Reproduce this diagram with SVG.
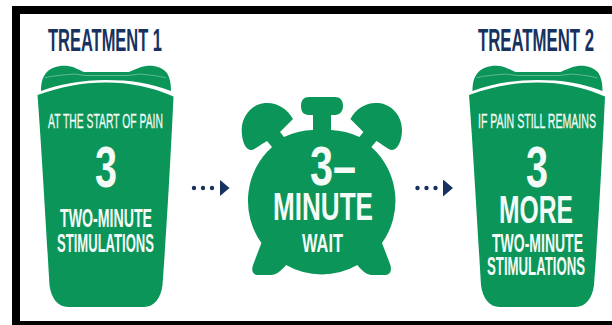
<svg xmlns="http://www.w3.org/2000/svg" xmlns:xlink="http://www.w3.org/1999/xlink" width="612" height="325" viewBox="0 0 612 325">
  <style>
    text { font-family: "Liberation Sans", Arial, sans-serif; }
    .g { fill: #0b9559; }
    .w { fill: #f4fbf7; }
    .h { fill: #17325f; font-size: 32px; font-weight: bold; }
    .s { font-size: 20px; stroke: #f4fbf7; stroke-width: .3; }
    .m { font-size: 25.5px; font-weight: bold; }
    .b { font-weight: bold; }
    .dots { fill: none; stroke: #17325f; stroke-width: 4.4; stroke-linecap: round; stroke-dasharray: 0 9; marker-end: url(#tri); }
  </style>
  <defs>
    <marker id="tri" markerUnits="userSpaceOnUse" markerWidth="11" markerHeight="18" refX="0" refY="8.5" orient="auto">
      <path d="M0 0L10 8.500L0 17Z" fill="#17325f"/>
    </marker>
    <g id="cup">
      <path class="g" d="M41 91C41 84 42 78 46 73C51 67 60 65 68 66C75 67 79 70 84 72L129 72C134 70 139 67 146 66C154 65 162 67 167 73C170 78 171 84 171 91C150 83 130 80 106 80C82 80 60 84 41 91Z"/>
      <path d="M45 78C50 76 62 75 75 74L85 75.500L128 75.500L140 74C150 75 160 76 166 78" fill="none" stroke="#5fba92" stroke-width="1"/>
      <path class="g" d="M37.500 95C60 87 82 82.500 106 82.500C130 82.500 152 87 173.500 96.500C172 130 168 210 162.500 285C161 298 154 307 144 307L68 307C58 307 51 298 49.500 285C45 210 41 140 37.500 95Z"/>
    </g>
  </defs>
  <rect width="612" height="325" fill="#fff"/>
  <g id="frame" fill="#000">
    <rect x="12" y="6" width="600" height="8"/>
    <rect x="12" y="6" width="8" height="319"/>
    <rect x="12" y="321" width="600" height="4"/>
  </g>
  <g id="connectors">
    <line class="dots" x1="194" y1="188" x2="219.500" y2="188"/>
    <line class="dots" x1="417.500" y1="188" x2="443" y2="188"/>
  </g>
  <g id="treatment-1">
    <text class="h" transform="translate(48 51) scale(.509 1)" textLength="224" lengthAdjust="spacingAndGlyphs">TREATMENT 1</text>
    <use xlink:href="#cup" href="#cup"/>
    <text class="w s" transform="translate(48 128) scale(.504 1)" textLength="228" lengthAdjust="spacingAndGlyphs">AT THE START OF PAIN</text>
    <text class="w b" transform="translate(95 187) scale(.682 1)" font-size="58" textLength="32.300" lengthAdjust="spacingAndGlyphs">3</text>
    <text class="w m" transform="translate(60 227) scale(.555 1)" textLength="165.800" lengthAdjust="spacingAndGlyphs">TWO-MINUTE</text>
    <text class="w m" transform="translate(57 251.500) scale(.507 1)" textLength="191.300" lengthAdjust="spacingAndGlyphs">STIMULATIONS</text>
  </g>
  <g id="clock">
    <path class="g" d="M313 130L313 115L309 115C303 115 301 111 301 106C301 100 304 97 309 97L335 97C340 97 343 100 343 106C343 111 340 115 335 115L331 115L331 130A72.500 72.500 0 0 1 359.400 137L363.400 132L350.400 119C356 108 367 102 378 103C392 104 402 116 402 130C402 140 398 150 392 150C389 150 386 147 376.400 141L371.400 147A72.500 72.500 0 0 1 382 243L390.400 265C392 271 390 275 385 275L372 275C367 275 362 271 357.400 265A72.500 72.500 0 0 1 286 265C281 271 276 275 271 275L258 275C253 275 251 271 253 265L261.400 243A72.500 72.500 0 0 1 272 147L267 141C257 147 254 150 251 150C245 150 241.700 140 241.700 130C241.700 116 252 104 265 103C276 102 287 108 293 119L280 132L284 137A72.500 72.500 0 0 1 313 130Z"/>
    <text class="w b" transform="translate(310 185) scale(.752 1)" font-size="55" textLength="61.200" lengthAdjust="spacingAndGlyphs">3–</text>
    <text class="w b" transform="translate(273 220) scale(.669 1)" font-size="39" textLength="149.500" lengthAdjust="spacingAndGlyphs">MINUTE</text>
    <text class="w b" transform="translate(302 251.500) scale(.617 1)" font-size="26" textLength="66.400" lengthAdjust="spacingAndGlyphs">WAIT</text>
  </g>
  <g id="treatment-2">
    <text class="h" transform="translate(478 51) scale(.518 1)" textLength="224" lengthAdjust="spacingAndGlyphs">TREATMENT 2</text>
    <use xlink:href="#cup" href="#cup" x="431.500"/>
    <text class="w s" transform="translate(478 128) scale(.523 1)" textLength="225.600" lengthAdjust="spacingAndGlyphs">IF PAIN STILL REMAINS</text>
    <text class="w b" transform="translate(526 187) scale(.682 1)" font-size="58" textLength="32.300" lengthAdjust="spacingAndGlyphs">3</text>
    <text class="w b" transform="translate(499 223) scale(.632 1)" font-size="39" textLength="117" lengthAdjust="spacingAndGlyphs">MORE</text>
    <text class="w m" transform="translate(492 252) scale(.549 1)" textLength="165.800" lengthAdjust="spacingAndGlyphs">TWO-MINUTE</text>
    <text class="w m" transform="translate(487 274.500) scale(.513 1)" textLength="191.300" lengthAdjust="spacingAndGlyphs">STIMULATIONS</text>
  </g>
</svg>
